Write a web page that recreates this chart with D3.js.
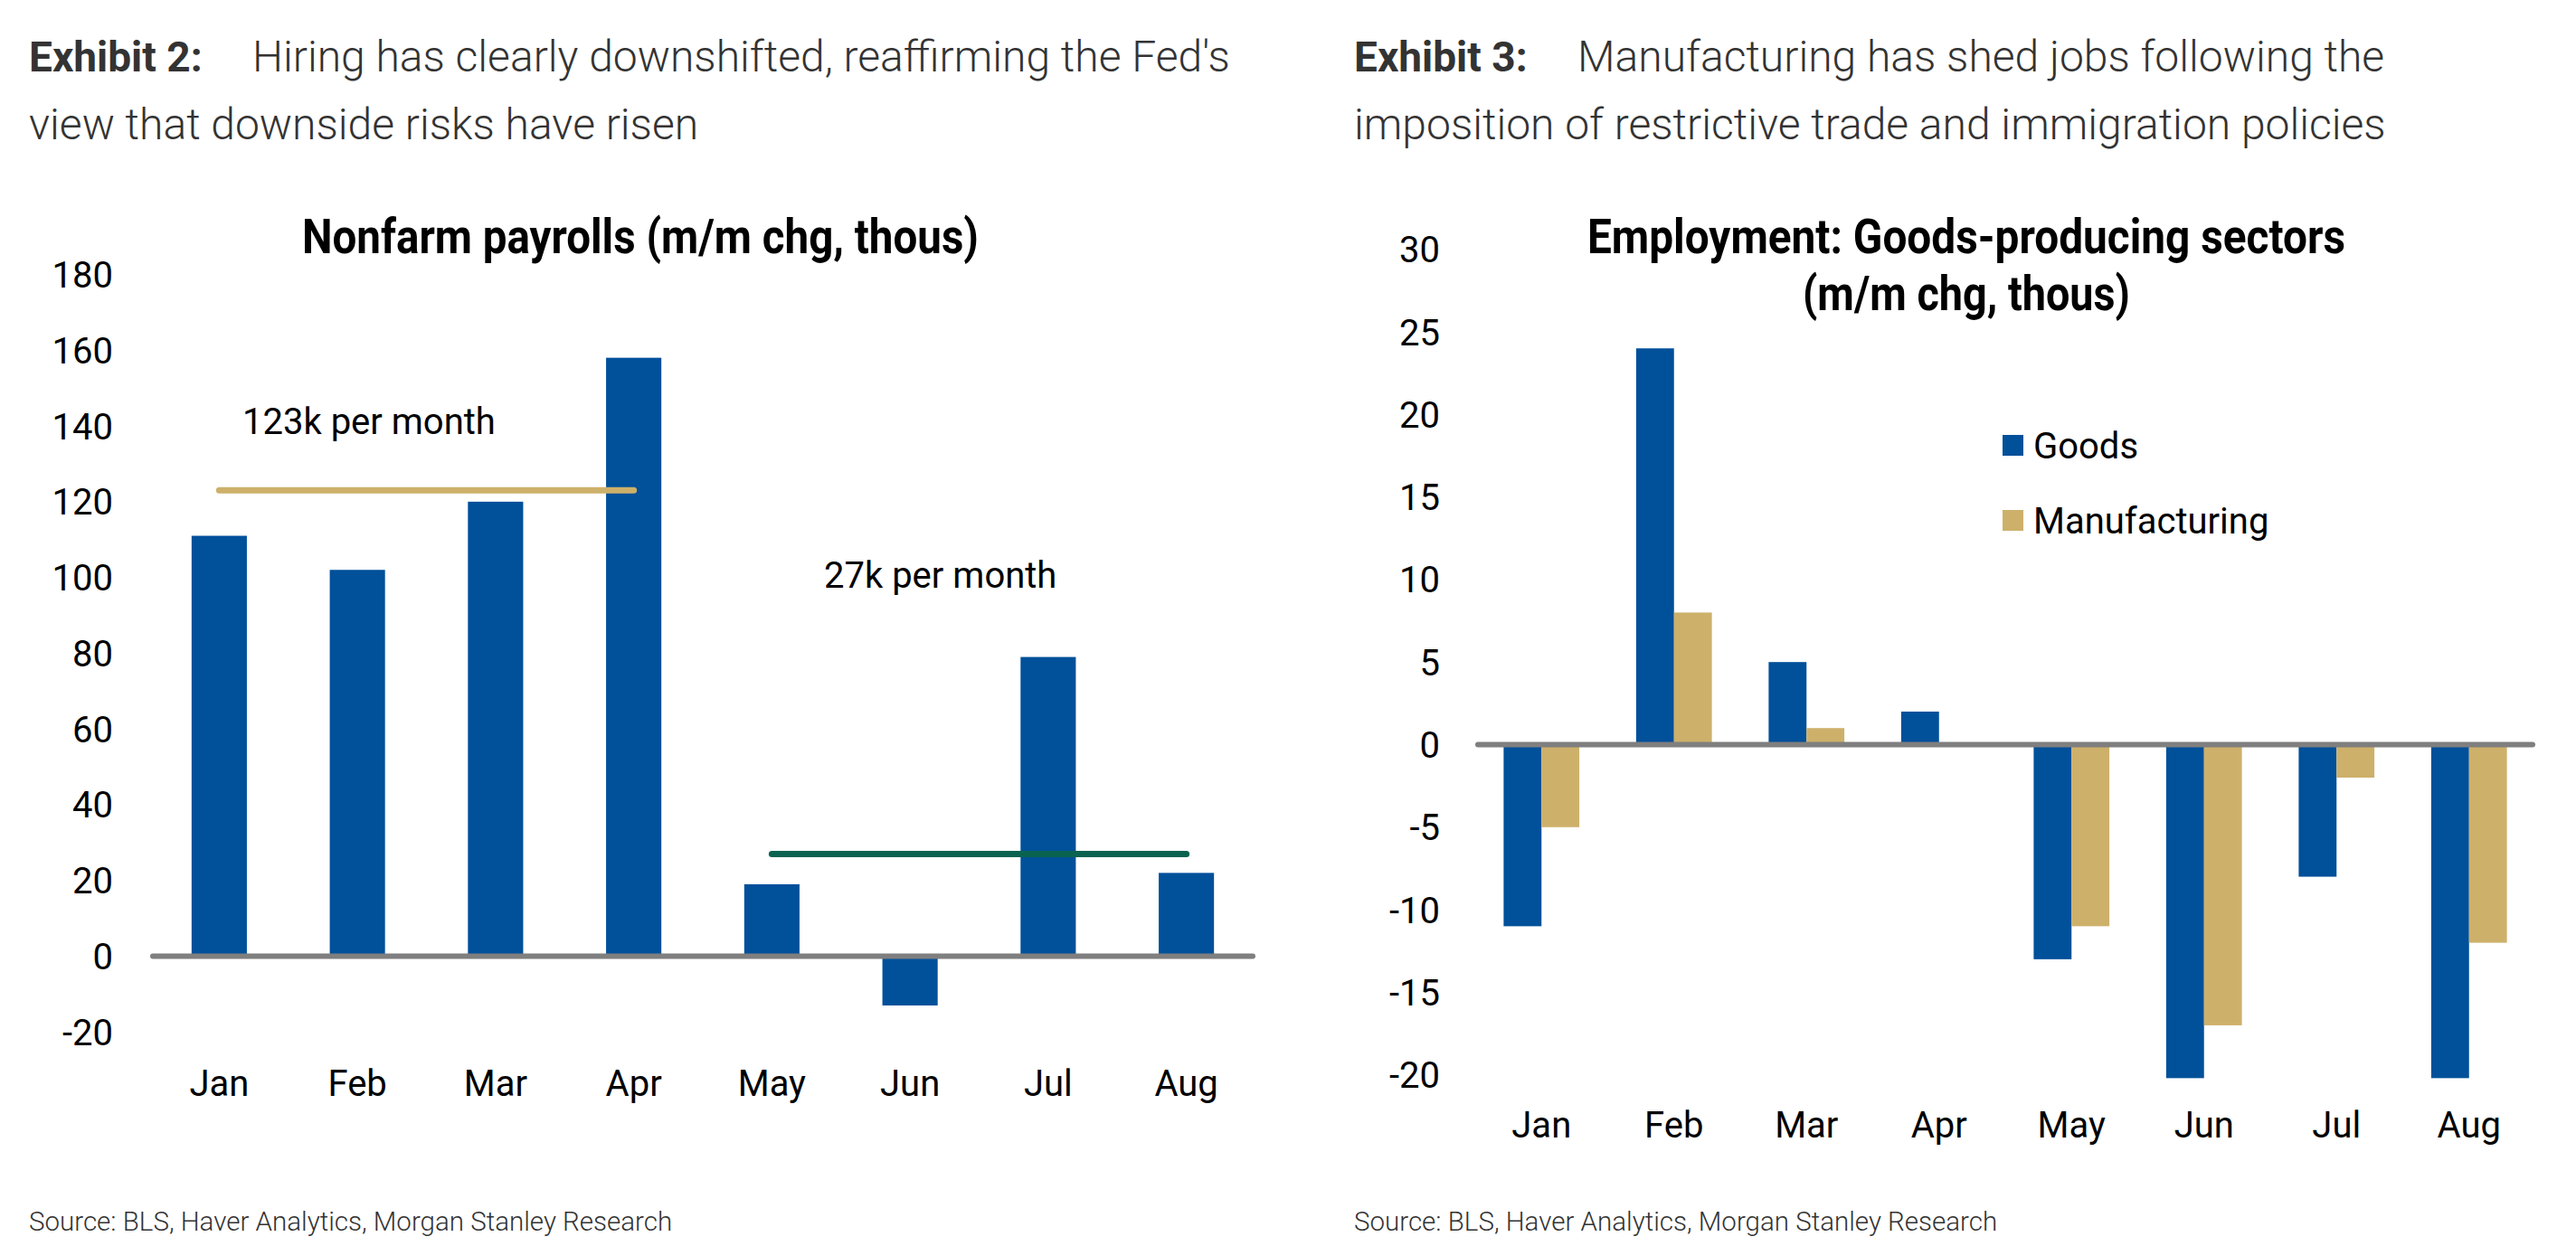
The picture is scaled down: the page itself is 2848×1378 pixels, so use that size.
<!DOCTYPE html>
<html>
<head>
<meta charset="utf-8">
<script src="https://cdn.jsdelivr.net/npm/d3@7/dist/d3.min.js"></script>
<style>
  html, body { margin: 0; padding: 0; background: #ffffff; }
  svg { display: block; font-family: Roboto, "Noto Sans", "DejaVu Sans", sans-serif; }
</style>
</head>
<body>
<svg id="chart" width="2848" height="1378"></svg>
<script>
// ---------- data ----------
const months = ["Jan", "Feb", "Mar", "Apr", "May", "Jun", "Jul", "Aug"];
const payrolls = [111, 102, 120, 158, 19, -13, 79, 22];
const avgEarly = 123;   // Jan–Apr average
const avgLate = 27;     // May–Aug average
const payrollTicks = [-20, 0, 20, 40, 60, 80, 100, 120, 140, 160, 180];

const seriesNames = ["Goods", "Manufacturing"];
const goods = [-11, 24, 5, 2, -13, -20.2, -8, -20.2];
const manufacturing = [-5, 8, 1, 0, -11, -17, -2, -12];
const goodsTicks = [-20, -15, -10, -5, 0, 5, 10, 15, 20, 25, 30];

// ---------- styles ----------
const BLUE = "#00509A", GOLD = "#CDB06A", GREEN = "#0A6350", GRAY = "#7F7F7F";
const TXT = "#000000", HEAD = "#333333";
const FONT = 'Roboto, "Noto Sans", "DejaVu Sans", sans-serif';
const LBL = 40;

const svg = d3.select("#chart");

// ---------- headers ----------
function header(x, label, line1, line2) {
  const g = svg.append("g").attr("fill", HEAD);
  g.append("text").attr("x", x).attr("y", 79).attr("font-size", 46).attr("font-weight", 700).text(label);
  g.append("text").attr("x", x + 247).attr("y", 79).attr("font-size", 48).attr("font-weight", 300).text(line1);
  g.append("text").attr("x", x).attr("y", 154).attr("font-size", 48).attr("font-weight", 300).text(line2);
}
header(32, "Exhibit 2:", "Hiring has clearly downshifted, reaffirming the Fed's", "view that downside risks have risen");
header(1497, "Exhibit 3:", "Manufacturing has shed jobs following the", "imposition of restrictive trade and immigration policies");

// sources
svg.append("text").attr("x", 32).attr("y", 1361).attr("font-size", 29.5).attr("fill", HEAD).attr("font-weight", 300)
  .text("Source: BLS, Haver Analytics, Morgan Stanley Research");
svg.append("text").attr("x", 1497).attr("y", 1361).attr("font-size", 29.5).attr("fill", HEAD).attr("font-weight", 300)
  .text("Source: BLS, Haver Analytics, Morgan Stanley Research");

function styleAxis(a, dy) {
  a.attr("font-family", FONT).attr("font-size", LBL);
  a.select(".domain").remove();
  a.selectAll("text").attr("fill", TXT).attr("dy", dy);
}

// ---------- left chart ----------
{
  const x = d3.scaleBand().domain(months).range([166, 1388]).paddingInner(0.6).paddingOuter(0.3);
  const y = d3.scaleLinear().domain([-20, 180]).range([1141.3, 303.5]);
  const g = svg.append("g");

  g.append("text").attr("x", 708).attr("y", 280).attr("text-anchor", "middle")
    .attr("font-size", 54).attr("font-weight", 700).attr("fill", TXT)
    .attr("textLength", 748).attr("lengthAdjust", "spacingAndGlyphs")
    .text("Nonfarm payrolls (m/m chg, thous)");

  const yAxis = d3.axisLeft(y).tickValues(payrollTicks).tickFormat(d => String(d)).tickSize(0).tickPadding(0);
  styleAxis(g.append("g").attr("transform", "translate(125,0)").call(yAxis), "0.35em");

  g.selectAll("rect.bar").data(payrolls).join("rect").attr("class", "bar")
    .attr("x", (d, i) => x(months[i]))
    .attr("width", x.bandwidth())
    .attr("y", d => Math.min(y(d), y(0)))
    .attr("height", d => Math.abs(y(d) - y(0)))
    .attr("fill", BLUE);

  g.append("line").attr("x1", 166 + 3).attr("x2", 1388 - 3).attr("y1", y(0)).attr("y2", y(0))
    .attr("stroke", GRAY).attr("stroke-width", 6).attr("stroke-linecap", "round");

  const c = m => x(m) + x.bandwidth() / 2;
  g.append("line").attr("x1", c("Jan")).attr("x2", c("Apr")).attr("y1", y(avgEarly)).attr("y2", y(avgEarly))
    .attr("stroke", GOLD).attr("stroke-width", 7).attr("stroke-linecap", "round");
  g.append("line").attr("x1", c("May")).attr("x2", c("Aug")).attr("y1", y(avgLate)).attr("y2", y(avgLate))
    .attr("stroke", GREEN).attr("stroke-width", 7).attr("stroke-linecap", "round");

  g.append("text").attr("x", 268).attr("y", 480).attr("font-size", LBL).attr("fill", TXT).text(avgEarly + "k per month");
  g.append("text").attr("x", 911).attr("y", 650).attr("font-size", LBL).attr("fill", TXT).text(avgLate + "k per month");

  const xAxis = d3.axisBottom(x).tickSize(0).tickPadding(0);
  styleAxis(g.append("g").attr("transform", "translate(0,1184)").call(xAxis), "0.71em");
}

// ---------- right chart ----------
{
  const x0 = d3.scaleBand().domain(months).range([1631, 2803]).paddingInner(0.4286).paddingOuter(0.2143);
  const x1 = d3.scaleBand().domain(seriesNames).range([0, x0.bandwidth()]).padding(0);
  const y = d3.scaleLinear().domain([-20, 30]).range([1188.7, 275.7]);
  const color = d3.scaleOrdinal().domain(seriesNames).range([BLUE, GOLD]);
  const g = svg.append("g");

  g.append("text").attr("x", 2174).attr("y", 280).attr("text-anchor", "middle")
    .attr("font-size", 54).attr("font-weight", 700).attr("fill", TXT)
    .attr("textLength", 838).attr("lengthAdjust", "spacingAndGlyphs")
    .text("Employment: Goods-producing sectors");
  g.append("text").attr("x", 2174).attr("y", 343).attr("text-anchor", "middle")
    .attr("font-size", 54).attr("font-weight", 700).attr("fill", TXT)
    .attr("textLength", 362).attr("lengthAdjust", "spacingAndGlyphs")
    .text("(m/m chg, thous)");

  const yAxis = d3.axisLeft(y).tickValues(goodsTicks).tickFormat(d => String(d)).tickSize(0).tickPadding(0);
  styleAxis(g.append("g").attr("transform", "translate(1592,0)").call(yAxis), "0.35em");

  const rows = months.map((m, i) => ({ month: m, values: [goods[i], manufacturing[i]] }));
  const grp = g.selectAll("g.grp").data(rows).join("g").attr("class", "grp")
    .attr("transform", d => `translate(${x0(d.month)},0)`);
  grp.selectAll("rect").data(d => d.values.map((v, k) => ({ key: seriesNames[k], v })))
    .join("rect")
    .attr("x", d => x1(d.key))
    .attr("width", x1.bandwidth())
    .attr("y", d => Math.min(y(d.v), y(0)))
    .attr("height", d => Math.abs(y(d.v) - y(0)))
    .attr("fill", d => color(d.key));

  g.append("line").attr("x1", 1631 + 3).attr("x2", 2803 - 3).attr("y1", y(0)).attr("y2", y(0))
    .attr("stroke", GRAY).attr("stroke-width", 6).attr("stroke-linecap", "round");

  const xAxis = d3.axisBottom(x0).tickSize(0).tickPadding(0);
  styleAxis(g.append("g").attr("transform", "translate(0,1230)").call(xAxis), "0.71em");

  // legend
  const lg = g.append("g").attr("transform", "translate(2214,481)");
  const li = lg.selectAll("g").data(seriesNames).join("g").attr("transform", (d, i) => `translate(0,${i * 83})`);
  li.append("rect").attr("width", 23).attr("height", 23).attr("fill", d => color(d));
  li.append("text").attr("x", 34).attr("y", 11.5).attr("dy", "0.35em").attr("font-size", LBL).attr("fill", TXT).text(d => d);
}
</script>
</body>
</html>
